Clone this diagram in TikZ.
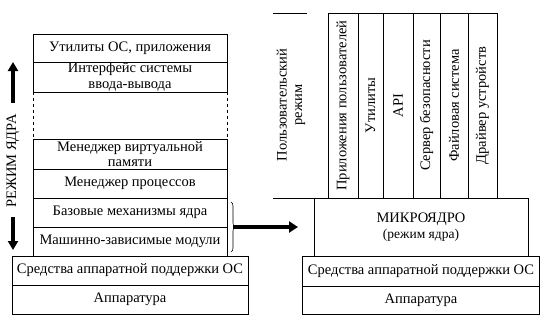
\documentclass[tikz,border=0pt]{standalone}
\usepackage{fontspec}
\setmainfont{Liberation Serif}
\usetikzlibrary{arrows.meta,positioning,decorations.pathreplacing}

\begin{document}
\begin{tikzpicture}[
  x=1pt, y=-1pt,
  font=\fontsize{14.5}{15.5}\selectfont,
  layer/.style ={draw, line width=0.8pt, minimum width=194pt, minimum height=29pt,
                 inner sep=0pt, outer sep=0pt, align=center},
  base/.style  ={layer, minimum width=236pt},
  col/.style   ={draw, line width=0.8pt, rotate=90, minimum width=185pt,
                 inner sep=0pt, outer sep=0pt},
  modearr/.style={line width=3.5pt, -{Triangle[length=9pt,width=10pt]}},
  bigarr/.style ={line width=4pt, -{Triangle[length=9pt,width=11pt]}},
]
\useasboundingbox (0,0) rectangle (550,322);

% ==================================================== LEFT: monolithic kernel
\node[layer, minimum height=28pt] (util) at (130,48) {Утилиты ОС, приложения};
\node[layer, minimum height=30pt, below=0pt of util] (iface) {Интерфейс системы\\ввода-вывода};
\node[layer, draw=none, minimum height=47pt, below=0pt of iface] (gap) {};
\draw[dashed, line width=0.8pt] (gap.north west) -- (gap.south west);
\draw[dashed, line width=0.8pt] (gap.north east) -- (gap.south east);
\node[layer, minimum height=30pt, below=0pt of gap] (vmem) {Менеджер виртуальной\\памяти};
\node[layer, below=0pt of vmem] (proc) {Менеджер процессов};
\node[layer, below=0pt of proc] (core) {Базовые механизмы ядра};
\node[layer, below=0pt of core] (mdep) {Машинно-зависимые модули};
\node[base, below=0pt of mdep] (hwsup) {Средства аппаратной поддержки ОС};
\node[base, below=0pt of hwsup] (hw) {Аппаратура};

% kernel mode arrows
\coordinate (upA) at (13,103);
\coordinate (upB) at (13,62);
\coordinate (dnA) at (13,217);
\coordinate (dnB) at (13,250);
\draw[modearr] (upA) -- (upB);
\draw[modearr] (dnA) -- (dnB);
\node[rotate=90] (kmode) at (13,161) {РЕЖИМ ЯДРА};

% brace over the two lowest layers
\draw[decorate, decoration={brace, amplitude=4pt}, line width=0.6pt]
  ([xshift=4pt,yshift=-4pt]core.north east) -- ([xshift=4pt,yshift=4pt]mdep.south east)
  coordinate[midway] (brmid);

% ==================================================== RIGHT: microkernel
\node[layer, minimum width=214pt, minimum height=58pt] (micro) at (421,227)
  {МИКРОЯДРО\\[1pt]{\fontsize{13.5}{15}\selectfont (режим ядра)}};
\node[base, minimum width=237pt, minimum height=30pt, below=0pt of micro] (hwsup2)
  {Средства аппаратной поддержки ОС};
\node[base, minimum width=237pt, minimum height=28pt, below=0pt of hwsup2] (hw2) {Аппаратура};

\node[col, minimum height=30pt] (c1) at (343,105.5) {Приложения пользователей};
\node[col, minimum height=25pt] (c2) at (370.5,105.5) {Утилиты};
\node[col, minimum height=30pt] (c3) at (398,105.5) {API};
\node[col, minimum height=27pt] (c4) at (426.5,105.5) {Сервер безопасности};
\node[col, minimum height=28pt] (c5) at (454,105.5) {Файловая система};
\node[col, minimum height=29pt] (c6) at (482.5,105.5) {Драйвер устройств};

% user mode marker
\node[rotate=90, align=center] (umode) at (291,105) {Пользовательский\\режим};
\coordinate (utopL) at (273,13);
\coordinate (utopR) at (307,13);
\coordinate (ubotL) at (273,198);
\draw[line width=0.8pt] (utopL) -- (utopR);
\draw[line width=0.8pt] (ubotL) -- (micro.north west);

% from monolithic core to microkernel
\draw[bigarr, shorten <=2pt, shorten >=16pt] (brmid) -- (micro.west);

\end{tikzpicture}
\end{document}
